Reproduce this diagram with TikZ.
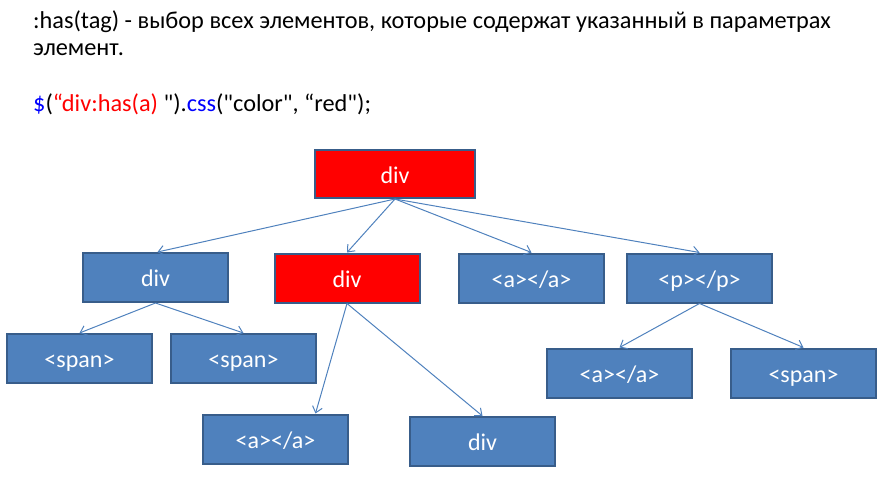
\documentclass[tikz,border=0pt]{standalone}
\usepackage{fontspec}
\setmainfont{Carlito}[Ligatures=TeXOff]
\usetikzlibrary{arrows.meta}
\definecolor{boxfill}{HTML}{4F81BD}
\definecolor{boxline}{HTML}{385D8A}
\definecolor{jqblue}{HTML}{0000FF}
\definecolor{jqred}{HTML}{FF0000}
\begin{document}
\begin{tikzpicture}[x=1pt,y=-1pt,
  tbox/.style={draw=boxline, line width=2pt, fill=boxfill, text=white,
    minimum width=145pt, minimum height=49pt, inner sep=0pt,
    text height=18pt, text depth=0pt,
    font=\fontsize{24}{28}\selectfont},
  redbox/.style={tbox, fill=jqred},
  conn/.style={draw=boxfill, line width=1pt, -{Straight Barb[length=6pt,width=10pt]}},
  txt/.style={anchor=base west, inner sep=0pt, font=\fontsize{24.3}{28}\selectfont}]
\useasboundingbox (0,0) rectangle (885,477);
\node[txt] (t1) at (33,28) {:has(tag) - выбор всех элементов, которые содержат указанный в параметрах};
\node[txt] (t2) at (33,55) {элемент.};
\node[txt] (t3) at (33,111) {\textcolor{jqblue}{\$}(\textcolor{jqred}{“div:has(a)} ").\textcolor{jqblue}{css}("color", “red");};

\node[redbox, minimum width=160pt, minimum height=48pt] (root) at (395,174) {div};
\node[tbox] (d1) at (155.5,277.5) {div};
\node[redbox] (d2) at (347,278) {div};
\node[tbox] (a1) at (531.5,278) {<a></a>};
\node[tbox] (p1) at (699.5,278) {<p></p>};
\node[tbox] (s1) at (79.5,358.5) {<span>};
\node[tbox] (s2) at (243.5,358.5) {<span>};
\node[tbox] (a2) at (619.5,373) {<a></a>};
\node[tbox] (s3) at (803.5,373) {<span>};
\node[tbox] (a3) at (275.5,439) {<a></a>};
\node[tbox] (d3) at (482.5,441.5) {div};

\draw[conn] (root.south) -- ([xshift=2pt]d1.north);
\draw[conn] (root.south) -- (d2.north);
\draw[conn] (root.south) -- (a1.north);
\draw[conn] (root.south) -- (p1.north);
\draw[conn] (d1.south) -- (s1.north);
\draw[conn] (d1.south) -- (s2.north);
\draw[conn] (d2.south) -- ([xshift=40pt]a3.north);
\draw[conn] (d2.south) -- (d3.north);
\draw[conn] (p1.south) -- (a2.north);
\draw[conn] (p1.south) -- (s3.north);
\end{tikzpicture}
\end{document}
